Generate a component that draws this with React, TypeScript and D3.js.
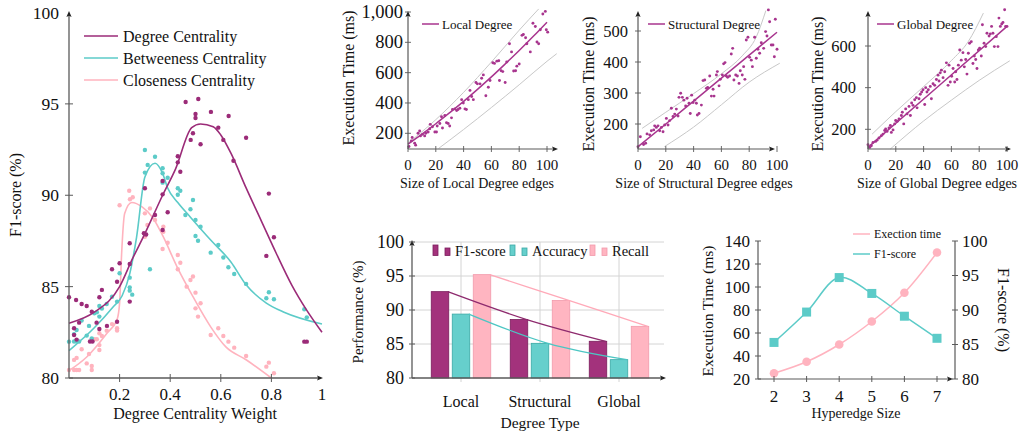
import React from "react";
import * as d3 from "d3";

type P = [number, number];

const FONT = "'Liberation Serif','Times New Roman',serif";
const AXIS = "#5a5a5a";
const PURPLE = "#9b2b78";
const MAGENTA = "#a8358e";
const CYAN = "#5ccbc8";
const PINK = "#ffb3be";
const BOUND = "#c8c8c8";

// ---------- left panel: centrality weight vs F1
const weightTicks = [0.2, 0.4, 0.6, 0.8, 1];
const f1Ticks = [80, 85, 90, 95, 100];
const degreeDots: P[] = [
  [0, 84.42], [0.028, 84.27], [0.05, 84.05], [0.07, 83.94], [0.02, 82.72], [0.02, 82.35], [0.04, 83.03],
  [0.03, 82.1], [0.09, 83.63], [0.083, 82.0], [0.093, 82.0], [0.12, 84.42], [0.13, 84.82], [0.109, 83.03],
  [0.12, 82.68], [0.15, 82.85], [0.17, 85.95], [0.19, 85.27], [0.2, 86.28], [0.19, 83.08], [0.24, 87.37],
  [0.24, 86.24], [0.24, 84.18], [0.296, 87.92], [0.305, 87.85], [0.3, 90.38], [0.34, 88.92], [0.39, 89.07],
  [0.37, 88.1], [0.78, 86.68], [0.81, 87.7], [0.93, 81.99], [0.94, 81.99], [0.461, 95.1], [0.511, 95.27],
  [0.5, 94.45], [0.5, 94.23], [0.561, 94.56], [0.631, 94.34], [0.59, 93.7], [0.49, 93.39], [0.481, 93.03],
  [0.52, 92.79], [0.61, 93.03], [0.7, 93.15], [0.43, 92.13], [0.43, 91.8], [0.44, 91.29], [0.65, 91.89],
  [0.37, 90.78], [0.37, 90.05], [0.79, 90.09],
];
const betweenDots: P[] = [
  [0, 81.99], [0.02, 82.0], [0.03, 82.0], [0.04, 82.0], [0.02, 82.4], [0.03, 82.63], [0.05, 83.14],
  [0.079, 82.85], [0.09, 82.17], [0.07, 82.32], [0.1, 83.54], [0.11, 83.6], [0.12, 83.94], [0.12, 83.36],
  [0.13, 83.8], [0.149, 84.05], [0.17, 84.45], [0.19, 84.18], [0.2, 85.73], [0.24, 85.49], [0.24, 84.96],
  [0.24, 84.78], [0.25, 84.56], [0.32, 85.95], [0.3, 92.48], [0.34, 92.11], [0.311, 91.66], [0.3, 91.24],
  [0.37, 91.48], [0.37, 91.2], [0.37, 90.69], [0.39, 90.96], [0.43, 90.38], [0.44, 90.25], [0.43, 90.03],
  [0.49, 89.74], [0.48, 89.23], [0.5, 88.65], [0.46, 88.92], [0.52, 88.28], [0.5, 87.77], [0.51, 87.51],
  [0.56, 86.86], [0.59, 87.28], [0.61, 86.59], [0.63, 86.06], [0.653, 85.69], [0.7, 85.15], [0.78, 84.36],
  [0.79, 84.69], [0.81, 84.31], [0.93, 83.76], [0.94, 83.32],
];
const closeDots: P[] = [
  [0, 80.44], [0.02, 80.44], [0.03, 80.44], [0.04, 80.44], [0.02, 80.99], [0.03, 81.1], [0.05, 81.57],
  [0.07, 80.8], [0.09, 80.66], [0.09, 80.44], [0.079, 81.31], [0.1, 82.12], [0.11, 82.12], [0.12, 81.53],
  [0.12, 81.8], [0.12, 82.45], [0.13, 82.3], [0.149, 82.59], [0.17, 82.95], [0.19, 82.72], [0.19, 82.6],
  [0.2, 89.45], [0.238, 90.25], [0.252, 89.89], [0.241, 89.78], [0.32, 89.28], [0.3, 89.01], [0.34, 88.65],
  [0.31, 88.37], [0.3, 87.73], [0.373, 88.28], [0.373, 88.0], [0.37, 87.06], [0.39, 87.4], [0.43, 86.73],
  [0.44, 86.31], [0.43, 85.95], [0.49, 85.55], [0.48, 85.36], [0.465, 85.0], [0.5, 84.67], [0.5, 83.81],
  [0.52, 84.09], [0.51, 83.36], [0.56, 82.35], [0.59, 82.72], [0.61, 82.3], [0.63, 81.99], [0.653, 81.66],
  [0.7, 81.2], [0.78, 80.62], [0.79, 80.84], [0.81, 80.26],
];
const degreeFit: P[] = [
  [0, 83.0], [0.1, 83.6], [0.2, 85.0], [0.25, 86.5], [0.3, 87.9], [0.37, 90.0], [0.42, 91.4], [0.485, 93.7],
  [0.52, 93.9], [0.57, 93.75], [0.6, 93.3], [0.64, 92.3], [0.7, 90.4], [0.76, 88.6], [0.82, 86.8],
  [0.88, 85.1], [0.94, 83.7], [1, 82.5],
];
const betweenFit: P[] = [
  [0, 81.5], [0.1, 82.75], [0.175, 83.9], [0.21, 84.5], [0.24, 85.7], [0.267, 87.7], [0.3, 91.0],
  [0.34, 91.75], [0.37, 91.2], [0.39, 90.4], [0.43, 89.6], [0.48, 88.8], [0.56, 87.55], [0.64, 86.35],
  [0.7, 85.1], [0.78, 84.1], [0.85, 83.6], [1, 82.95],
];
const closeFit: P[] = [
  [0, 80.4], [0.07, 81.15], [0.15, 82.45], [0.19, 83.2], [0.2, 84.1], [0.208, 86.8], [0.22, 89.0],
  [0.248, 89.6], [0.29, 89.35], [0.33, 88.8], [0.37, 87.8], [0.43, 86.0], [0.49, 84.45], [0.56, 82.8],
  [0.62, 81.7], [0.7, 81.0], [0.8, 80.0],
];

// ---------- top panels: execution time vs edges
const edgeTicks = [0, 20, 40, 60, 80, 100];
const localDots: P[] = [
  [0.7, 113], [2.4, 150], [3, 172], [4.8, 135], [5.5, 122], [7.2, 200], [8.4, 215], [9, 183], [10.4, 193],
  [12, 183], [12.8, 200], [14.5, 209], [15.7, 230], [16, 259], [17.6, 243], [19.3, 209], [20.5, 209],
  [21, 248], [22.9, 265], [24.1, 309], [24.8, 235], [26.5, 317], [27.7, 270], [28.9, 265], [30, 248],
  [31.3, 302], [32, 357], [33.7, 361], [35, 350], [36, 357], [37.3, 365], [38.6, 422], [39.8, 400],
  [41, 361], [42, 357], [43.4, 422], [44.6, 483], [45.8, 443], [47, 422], [48.9, 535], [49.9, 526],
  [51.8, 526], [53, 563], [54.2, 585], [56, 448], [57.8, 504], [59, 548], [61, 665], [62.2, 661],
  [63.9, 676], [65.3, 678], [65.8, 548], [67, 613], [68.2, 607], [69.9, 535], [71, 670], [73, 791],
  [74.5, 737], [76, 611], [77.4, 613], [78.3, 643], [80, 657], [82, 846], [83, 852], [84.6, 830],
  [85.5, 791], [88, 737], [89.9, 926], [91.6, 904], [92.8, 802], [94, 791], [95.2, 883], [97, 987],
  [98.8, 1004], [99.5, 883], [100.5, 867],
];
const localFit: P[] = [
  [0, 128], [10, 194], [20, 263], [30, 336], [40, 411], [50, 490], [60, 572], [70, 658], [80, 746],
  [90, 838], [100, 933],
];
const localUpper: P[] = [[0, 135], [20, 290], [40, 470], [60, 670], [80, 880], [94, 1020]];
const localLower: P[] = [[22, 100], [40, 225], [60, 370], [80, 520], [100, 675], [107, 725]];

const structDots: P[] = [
  [0, 127], [1.7, 159], [4, 134], [5.5, 138], [6.5, 168], [8.4, 165], [9.6, 178], [11.3, 181], [12, 194],
  [13.2, 189], [14.4, 194], [15.6, 178], [16.8, 189], [18, 175], [19.2, 197], [20.4, 218], [21.6, 197],
  [22.8, 211], [24, 251], [25.2, 224], [26.4, 232], [27.6, 248], [28.8, 226], [29.5, 286], [30.7, 299],
  [31.9, 286], [33, 277], [34.3, 258], [35.3, 283], [36.7, 267], [37.6, 234], [38.6, 293], [39.6, 269],
  [40.8, 277], [42, 267], [42.7, 229], [43.9, 234], [45.6, 261], [46.8, 340], [48, 342], [49.2, 315],
  [50.1, 318], [51.6, 355], [52.8, 290], [54, 312], [54.7, 290], [56.4, 358], [57.1, 369], [58.3, 323],
  [59.2, 344], [60.7, 358], [61.6, 394], [62.6, 398], [63.5, 355], [64.5, 351], [65.9, 355], [67.1, 426],
  [68.1, 444], [69, 342], [70.3, 358], [71.5, 355], [72.7, 331], [73.6, 372], [75, 358], [76, 385],
  [76.9, 344], [77.9, 471], [79.1, 480], [80.3, 415], [81.5, 406], [82.3, 385], [83.9, 480], [85.1, 412],
  [86.3, 441], [87.5, 428], [88.7, 462], [90.4, 444], [91.8, 498], [92.8, 484], [93.8, 568], [94.7, 530],
  [95.9, 455], [97.1, 455], [98.1, 417], [98.8, 538], [100, 441],
];
const structFit: P[] = [[0, 127], [20, 200], [40, 274], [60, 348], [80, 422], [100, 496]];
const structUpper: P[] = [[3, 186], [20, 238], [40, 298], [60, 362], [75, 420], [85, 480], [92, 566]];
const structLower: P[] = [[19, 127], [40, 190], [60, 262], [80, 335], [102, 396]];

const globalDots: P[] = [
  [0, 126], [1.2, 113], [2.4, 121], [3.6, 137], [5.5, 142], [6.5, 148], [7.9, 158], [9.6, 169], [10.8, 177],
  [12, 194], [12.7, 202], [13.7, 190], [15.1, 206], [16.1, 218], [16.8, 185], [18, 197], [19.2, 226],
  [19.9, 242], [21.1, 239], [22.3, 250], [24, 266], [24.7, 282], [25.7, 226], [27.1, 298], [28.1, 274],
  [29.5, 310], [30.5, 266], [31.4, 326], [32.4, 315], [33.6, 342], [34.8, 352], [35.3, 303], [36.7, 347],
  [37.6, 368], [38.6, 379], [39.6, 390], [40.8, 319], [41.5, 400], [42.4, 379], [43.4, 390], [44.8, 406],
  [45.6, 347], [46.8, 419], [48, 411], [49.2, 439], [50.4, 460], [51.1, 432], [52, 471], [52.8, 484],
  [54, 448], [55.2, 476], [56.4, 519], [57.6, 411], [58.3, 508], [59.2, 427], [60.2, 455], [61.2, 492],
  [62.4, 427], [63.1, 476], [64, 439], [65, 508], [66, 581], [67.1, 532], [68.3, 568], [69.3, 500],
  [70.3, 535], [71.2, 465], [72.2, 565], [73.1, 613], [74.3, 621], [75.5, 516], [76.5, 552], [77.5, 535],
  [78.4, 492], [79.4, 581], [80.3, 589], [81.5, 552], [82.3, 702], [83.5, 613], [84.7, 597], [85.6, 661],
  [87.1, 648], [88, 658], [88.9, 694], [89.9, 661], [90.9, 597], [92.3, 645], [93.5, 597], [94.2, 734],
  [95.2, 694], [96.2, 706], [97.1, 713], [98.3, 774], [99, 694], [100, 694],
];
const globalFit: P[] = [[0, 113], [50, 403], [100, 694]];
const globalUpper: P[] = [[3, 177], [20, 285], [40, 405], [60, 530], [72, 620], [83, 758]];
const globalLower: P[] = [[16, 105], [40, 240], [60, 340], [80, 435], [102, 529]];

// ---------- bar chart
const degreeTypes = ["Local", "Structural", "Global"];
const perfTicks = [80, 85, 90, 95, 100];
const f1Scores = [92.7, 88.6, 85.4];
const accuracy = [89.4, 85.1, 82.7];
const recall = [95.2, 91.4, 87.6];

// ---------- hyperedge chart
const hyperedgeSizes = [2, 3, 4, 5, 6, 7];
const execTime = [25, 35, 50, 70, 95, 130];
const hyperF1 = [85.3, 89.7, 94.7, 92.4, 89.1, 85.9];
const timeTicks = [20, 40, 60, 80, 100, 120, 140];
const hyperF1Ticks = [80, 85, 90, 95, 100];

const arrowRight = (x: number, y: number) => `M${x},${y} l-6,-2.6 l1.2,2.6 l-1.2,2.6 z`;
const arrowUp = (x: number, y: number) => `M${x},${y} l-2.6,6 l2.6,-1.2 l2.6,1.2 z`;

const txt = (size: number) => ({ fontFamily: FONT, fontSize: size, fill: "#111" });

function LeftPanel() {
  const x = d3.scaleLinear().domain([0, 1]).range([69, 322]);
  const y = d3.scaleLinear().domain([80, 100]).range([378, 12.5]);
  const line = d3.line<P>().x(d => x(d[0])).y(d => y(d[1])).curve(d3.curveMonotoneX);
  const series = [
    { name: "Degree Centrality", color: PURPLE, dots: degreeDots, fit: degreeFit },
    { name: "Betweeness Centrality", color: CYAN, dots: betweenDots, fit: betweenFit },
    { name: "Closeness Centrality", color: PINK, dots: closeDots, fit: closeFit },
  ];
  return (
    <g>
      {series.slice().reverse().map(s => (
        <g key={s.name}>
          {s.dots.map((d, i) => <circle key={i} cx={x(d[0])} cy={y(d[1])} r={2.2} fill={s.color} />)}
          <path d={line(s.fit) || ""} fill="none" stroke={s.color} strokeWidth={1.6} />
        </g>
      ))}
      <line x1={69} x2={69} y1={378} y2={14} stroke={AXIS} strokeWidth={1.3} />
      <path d={arrowUp(69, 11)} fill="#222" />
      <line x1={69} x2={320} y1={378} y2={378} stroke={AXIS} strokeWidth={1.3} />
      <path d={arrowRight(323, 378)} fill="#222" />
      {f1Ticks.map(t => (
        <g key={t}>
          {t < 100 && <line x1={65} x2={73} y1={y(t)} y2={y(t)} stroke={AXIS} strokeWidth={1} />}
          <text x={59} y={y(t)} textAnchor="end" dominantBaseline="central" {...txt(17.5)}>{t}</text>
        </g>
      ))}
      {weightTicks.map(t => (
        <g key={t}>
          {t < 1 && <line x1={x(t)} x2={x(t)} y1={374} y2={382} stroke={AXIS} strokeWidth={1} />}
          <text x={x(t)} y={394} textAnchor="middle" dominantBaseline="central" {...txt(17)}>{d3.format("")(t)}</text>
        </g>
      ))}
      <text x={195} y={413} textAnchor="middle" dominantBaseline="central" {...txt(16)}>Degree Centrality Weight</text>
      <text transform="translate(15,195) rotate(-90)" textAnchor="middle" dominantBaseline="central" {...txt(16)}>F1-score (%)</text>
      {series.map((s, i) => (
        <g key={s.name}>
          <line x1={84} x2={118} y1={36 + i * 22} y2={36 + i * 22} stroke={s.color} strokeWidth={1.6} />
          <text x={123} y={36 + i * 22} dominantBaseline="central" {...txt(16)}>{s.name}</text>
        </g>
      ))}
    </g>
  );
}

interface ScatterProps {
  ox: number; px100: number; xEnd: number;
  yRef: [number, number]; yPix: [number, number];
  yTicks: number[]; yFmt: (v: number) => string; tickFont: number; labelRight: number;
  dots: P[]; fit: P[]; upper: P[]; lower: P[];
  legend: string; legendX: number; xlabel: string; xlabelX: number; ylabelX: number; ylabelY: number;
}

function ScatterPanel(p: ScatterProps) {
  const x = d3.scaleLinear().domain([0, 100]).range([p.ox, p.px100]);
  const y = d3.scaleLinear().domain(p.yRef).range(p.yPix);
  const line = d3.line<P>().x(d => x(d[0])).y(d => y(d[1])).curve(d3.curveMonotoneX);
  const bottom = 149;
  return (
    <g>
      <path d={line(p.upper) || ""} fill="none" stroke={BOUND} strokeWidth={1} />
      <path d={line(p.lower) || ""} fill="none" stroke={BOUND} strokeWidth={1} />
      {p.dots.map((d, i) => <circle key={i} cx={x(d[0])} cy={y(d[1])} r={1.45} fill={MAGENTA} />)}
      <path d={line(p.fit) || ""} fill="none" stroke={MAGENTA} strokeWidth={1.5} />
      <line x1={p.ox} x2={p.ox} y1={bottom} y2={14} stroke={AXIS} strokeWidth={1.2} />
      <path d={arrowUp(p.ox, 11)} fill="#222" />
      <line x1={p.ox} x2={p.xEnd - 3} y1={bottom} y2={bottom} stroke={AXIS} strokeWidth={1.2} />
      <path d={arrowRight(p.xEnd, bottom)} fill="#222" />
      {p.yTicks.map(t => (
        <g key={t}>
          <line x1={p.ox - 3} x2={p.ox + 3} y1={y(t)} y2={y(t)} stroke={AXIS} strokeWidth={0.9} />
          <text x={p.labelRight} y={y(t)} textAnchor="end" dominantBaseline="central" {...txt(p.tickFont)}>{p.yFmt(t)}</text>
        </g>
      ))}
      {edgeTicks.map(t => (
        <g key={t}>
          <line x1={x(t)} x2={x(t)} y1={bottom - 3} y2={bottom + 3} stroke={AXIS} strokeWidth={0.9} />
          <text x={x(t)} y={165} textAnchor="middle" dominantBaseline="central" {...txt(15)}>{t}</text>
        </g>
      ))}
      <text x={p.xlabelX} y={183} textAnchor="middle" dominantBaseline="central" {...txt(14)}>{p.xlabel}</text>
      <text transform={`translate(${p.ylabelX},${p.ylabelY}) rotate(-90)`} textAnchor="middle" dominantBaseline="central" {...txt(16)}>Execution Time (ms)</text>
      <line x1={p.legendX} x2={p.legendX + 17} y1={24} y2={24} stroke={MAGENTA} strokeWidth={1.5} />
      <text x={p.legendX + 20} y={24} dominantBaseline="central" {...txt(13)}>{p.legend}</text>
    </g>
  );
}

function BarPanel() {
  const cx = d3.scalePoint<string>().domain(degreeTypes).range([461, 619]);
  const keys = ["F1-score", "Accuracy", "Recall"];
  const off = d3.scaleBand<string>().domain(keys).range([-29.75, 29.75]).paddingInner(0.167);
  const y = d3.scaleLinear().domain([80, 100]).range([378, 242]);
  const series = [
    { key: "F1-score", vals: f1Scores, fill: "#a3327c", stroke: "#7a1d5c", trend: "#8e2a6e" },
    { key: "Accuracy", vals: accuracy, fill: "#66cfcc", stroke: "#3aa9a6", trend: "#4cc6c3" },
    { key: "Recall", vals: recall, fill: "#ffb5c1", stroke: "#f29aab", trend: "#ffa9b8" },
  ];
  const bw = off.bandwidth();
  const trend = d3.line<[number, number]>().x(d => d[0]).y(d => y(d[1])).curve(d3.curveNatural);
  const legendX = [433, 510, 590];
  return (
    <g>
      {perfTicks.slice(1).map(t => <line key={t} x1={412} x2={664} y1={y(t)} y2={y(t)} stroke="#d4d4d4" strokeWidth={1} />)}
      {degreeTypes.map(c => <line key={c} x1={cx(c)} x2={cx(c)} y1={382} y2={242} stroke="#d4d4d4" strokeWidth={1} />)}
      {series.map(s => degreeTypes.map((c, i) => {
        const x0 = (cx(c) as number) + (off(s.key) as number);
        return <rect key={s.key + c} x={x0} y={y(s.vals[i])} width={bw} height={378 - y(s.vals[i])} fill={s.fill} stroke={s.stroke} strokeWidth={0.8} />;
      }))}
      {series.map(s => (
        <path key={s.key} d={trend(degreeTypes.map((c, i) => [(cx(c) as number) + (off(s.key) as number) + bw - 1, s.vals[i]])) || ""}
          fill="none" stroke={s.trend} strokeWidth={1.3} />
      ))}
      <line x1={412} x2={412} y1={378} y2={244} stroke={AXIS} strokeWidth={1.3} />
      <path d={arrowUp(412, 240)} fill="#222" />
      <line x1={412} x2={662} y1={378} y2={378} stroke={AXIS} strokeWidth={1.3} />
      <path d={arrowRight(666, 378)} fill="#222" />
      {perfTicks.map(t => (
        <g key={t}>
          <line x1={409} x2={415} y1={y(t)} y2={y(t)} stroke={AXIS} strokeWidth={1} />
          <text x={404} y={y(t)} textAnchor="end" dominantBaseline="central" {...txt(18)}>{t}</text>
        </g>
      ))}
      {degreeTypes.map(c => (
        <text key={c} x={cx(c)} y={401} textAnchor="middle" dominantBaseline="central" {...txt(16)}>{c}</text>
      ))}
      <text x={540} y={422} textAnchor="middle" dominantBaseline="central" {...txt(15.5)}>Degree Type</text>
      <text transform="translate(358,312) rotate(-90)" textAnchor="middle" dominantBaseline="central" {...txt(15)}>Performance (%)</text>
      {series.map((s, i) => (
        <g key={s.key}>
          <rect x={legendX[i]} y={245} width={5} height={10.5} fill={s.fill} stroke={s.stroke} strokeWidth={0.8} />
          <rect x={legendX[i] + 12} y={248} width={5} height={7.5} fill={s.fill} stroke={s.stroke} strokeWidth={0.8} />
          <text x={legendX[i] + 22} y={251} dominantBaseline="central" {...txt(14.5)}>{s.key}</text>
        </g>
      ))}
    </g>
  );
}

function HyperPanel() {
  const x = d3.scaleLinear().domain([2, 7]).range([774, 937]);
  const yT = d3.scaleLinear().domain([20, 140]).range([379, 241]);
  const yF = d3.scaleLinear().domain([80, 100]).range([379, 241]);
  const curve = d3.curveCatmullRom.alpha(0.5);
  const tLine = d3.line<number>().x((_, i) => x(hyperedgeSizes[i])).y(d => yT(d)).curve(curve);
  const fLine = d3.line<number>().x((_, i) => x(hyperedgeSizes[i])).y(d => yF(d)).curve(curve);
  const pinkC = "#ffb3bf";
  const cyanC = "#5ccbc8";
  return (
    <g>
      <path d={tLine(execTime) || ""} fill="none" stroke={pinkC} strokeWidth={1.5} />
      {execTime.map((v, i) => <circle key={i} cx={x(hyperedgeSizes[i])} cy={yT(v)} r={4.3} fill={pinkC} />)}
      <path d={fLine(hyperF1) || ""} fill="none" stroke={cyanC} strokeWidth={1.5} />
      {hyperF1.map((v, i) => <rect key={i} x={x(hyperedgeSizes[i]) - 4.5} y={yF(v) - 4.5} width={9} height={9} fill={cyanC} />)}
      <line x1={758} x2={758} y1={379} y2={241} stroke={AXIS} strokeWidth={1.2} />
      <line x1={955} x2={955} y1={379} y2={241} stroke={AXIS} strokeWidth={1.2} />
      <line x1={758} x2={950} y1={379} y2={379} stroke={AXIS} strokeWidth={1.2} />
      <path d={arrowRight(953, 379)} fill="#222" />
      {timeTicks.map(t => (
        <g key={t}>
          <line x1={755} x2={761} y1={yT(t)} y2={yT(t)} stroke={AXIS} strokeWidth={1} />
          <text x={750} y={yT(t)} textAnchor="end" dominantBaseline="central" {...txt(17)}>{t}</text>
        </g>
      ))}
      {hyperF1Ticks.map(t => (
        <g key={t}>
          <line x1={952} x2={958} y1={yF(t)} y2={yF(t)} stroke={AXIS} strokeWidth={1} />
          <text x={962} y={yF(t)} dominantBaseline="central" {...txt(17)}>{t}</text>
        </g>
      ))}
      {hyperedgeSizes.map(t => (
        <g key={t}>
          <line x1={x(t)} x2={x(t)} y1={376} y2={382} stroke={AXIS} strokeWidth={1} />
          <text x={x(t)} y={396} textAnchor="middle" dominantBaseline="central" {...txt(17)}>{t}</text>
        </g>
      ))}
      <text x={856} y={413} textAnchor="middle" dominantBaseline="central" {...txt(14)}>Hyperedge Size</text>
      <text transform="translate(707,311) rotate(-90)" textAnchor="middle" dominantBaseline="central" {...txt(15.5)}>Execution Time (ms)</text>
      <text transform="translate(1003,310) rotate(90)" textAnchor="middle" dominantBaseline="central" {...txt(16)}>F1-score (%)</text>
      <line x1={853} x2={870} y1={234} y2={234} stroke={pinkC} strokeWidth={1.5} />
      <text x={874} y={234} dominantBaseline="central" {...txt(12)}>Exection time</text>
      <line x1={853} x2={870} y1={254} y2={254} stroke={cyanC} strokeWidth={1.5} />
      <text x={874} y={254} dominantBaseline="central" {...txt(12)}>F1-score</text>
    </g>
  );
}

export default function App() {
  const thousands = d3.format(",");
  return (
    <svg width={1027} height={434} style={{ position: "absolute", left: 0, top: 0, background: "#fff" }}>
      <rect width={1027} height={434} fill="#fff" />
      <LeftPanel />
      <ScatterPanel ox={408} px100={547} xEnd={558} yRef={[200, 1000]} yPix={[133.3, 12]}
        yTicks={[200, 400, 600, 800, 1000]} yFmt={thousands} tickFont={18.5} labelRight={403}
        dots={localDots} fit={localFit} upper={localUpper} lower={localLower}
        legend="Local Degree" legendX={422} xlabel="Size of Local Degree edges" xlabelX={477} ylabelX={348} ylabelY={78} />
      <ScatterPanel ox={638} px100={777} xEnd={775} yRef={[200, 500]} yPix={[124, 31]}
        yTicks={[200, 300, 400, 500]} yFmt={thousands} tickFont={16.5} labelRight={628}
        dots={structDots} fit={structFit} upper={structUpper} lower={structLower}
        legend="Structural Degree" legendX={648} xlabel="Size of Structural Degree edges" xlabelX={704} ylabelX={588} ylabelY={84} />
      <ScatterPanel ox={868} px100={1007} xEnd={1011} yRef={[200, 600]} yPix={[129.3, 46]}
        yTicks={[200, 400, 600]} yFmt={thousands} tickFont={16.5} labelRight={856}
        dots={globalDots} fit={globalFit} upper={globalUpper} lower={globalLower}
        legend="Global Degree" legendX={877} xlabel="Size of Global Degree edges" xlabelX={937} ylabelX={817} ylabelY={84} />
      <BarPanel />
      <HyperPanel />
    </svg>
  );
}
